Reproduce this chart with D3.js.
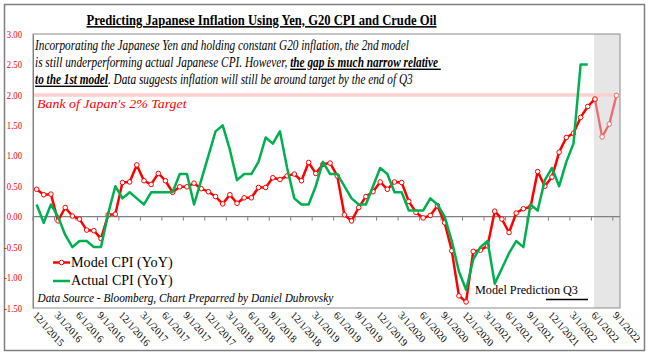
<!DOCTYPE html>
<html><head><meta charset="utf-8">
<script src="https://cdn.jsdelivr.net/npm/d3@7"></script>
<style>body{margin:0;background:#fff} svg{display:block}</style>
</head><body>
<svg id="chart" width="649" height="353"></svg>
<script>
// ---------------- data ----------------
const tickLabels = ["12/1/2015","3/1/2016","6/1/2016","9/1/2016","12/1/2016","3/1/2017","6/1/2017","9/1/2017",
  "12/1/2017","3/1/2018","6/1/2018","9/1/2018","12/1/2018","3/1/2019","6/1/2019","9/1/2019","12/1/2019",
  "3/1/2020","6/1/2020","9/1/2020","12/1/2020","3/1/2021","6/1/2021","9/1/2021","12/1/2021","3/1/2022",
  "6/1/2022","9/1/2022"];
// Model CPI (YoY), monthly from 12/1/2015 to 6/1/2022
const modelCPI = [0.45,0.36,0.37,-0.07,0.15,0.01,-0.04,-0.22,-0.23,-0.36,
  0.03,0.04,0.56,0.57,0.85,0.59,0.53,0.71,0.59,0.40,
  0.49,0.49,0.55,0.46,0.41,0.33,0.21,0.36,0.22,0.31,
  0.31,0.48,0.48,0.64,0.61,0.67,0.70,0.59,0.89,0.71,
  0.86,0.88,0.67,0.03,-0.07,0.15,0.33,0.41,0.57,0.45,
  0.57,0.56,0.25,0.07,-0.02,0.02,0.18,-0.10,-0.56,-1.30,
  -1.40,-0.57,-0.55,-0.48,0.09,-0.04,-0.26,0.06,0.13,0.16,
  0.74,0.50,0.65,1.06,1.30,1.37,1.63,1.81,1.93];
// Actual CPI (YoY), monthly from 12/1/2015 to 5/1/2022
const actualCPI = [0.2,-0.1,0.2,0.0,-0.3,-0.5,-0.4,-0.4,-0.5,-0.5,
  0.05,0.5,0.3,0.4,0.3,0.2,0.4,0.4,0.4,0.4,
  0.7,0.7,0.2,0.6,1.0,1.4,1.5,1.1,0.6,0.7,
  0.7,0.9,1.3,1.2,1.4,0.8,0.3,0.2,0.2,0.5,
  0.9,0.7,0.7,0.5,0.3,0.2,0.2,0.5,0.8,0.7,
  0.4,0.4,0.1,0.1,0.1,0.3,0.2,0.0,-0.4,-0.9,
  -1.2,-0.7,-0.5,-0.4,-1.1,-0.85,-0.6,-0.4,-0.5,0.2,
  0.1,0.6,0.8,0.5,0.9,1.2,2.5,2.5];
// Model prediction, 6/1/2022 to 9/1/2022
const forecastStart = "6/1/2022";
const modelForecast = [1.93,1.31,1.52,1.99];
const yTicks = [3,2.5,2,1.5,1,0.5,0,-0.5,-1,-1.5];
const bojTarget = 2.0;

// ---------------- setup ----------------
const fmt = d3.timeFormat("%-m/%-d/%Y");
const cats = d3.timeMonth.range(new Date(2015,11,1), new Date(2022,9,1)).map(fmt);
const L = 33, R = 620, T = 34, B = 308;
const svg = d3.select("#chart");
const SERIF = "'Liberation Serif','Times New Roman',serif";

const x = d3.scaleBand().domain(cats).range([L, R]).padding(0);
const cx = c => x(c) + x.bandwidth() / 2;
const y = d3.scaleLinear().domain([-1.5, 3]).range([B, T]);

function fitX(sel, target, ax) {
  const w = sel.node().getBBox().width;
  const s = target / w;
  sel.attr("transform", `translate(${ax},0) scale(${s},1) translate(${-ax},0)`);
}

// outer border
svg.append("rect").attr("x", 4.5).attr("y", 4.5).attr("width", 640).attr("height", 346)
  .attr("fill", "#fff").attr("stroke", "#7f7f7f").attr("stroke-width", 1.5);

// plot area
svg.append("rect").attr("x", L).attr("y", T).attr("width", R - L).attr("height", B - T)
  .attr("fill", "#fff");

// forecast shading
const shadeX = cx(forecastStart) - 1;
svg.append("rect").attr("x", shadeX).attr("y", T).attr("width", R - shadeX).attr("height", B - T)
  .attr("fill", "#e6e6e6");

// BoJ target band
svg.append("line").attr("x1", L).attr("x2", R).attr("y1", y(bojTarget)).attr("y2", y(bojTarget))
  .attr("stroke", "#ffcfcf").attr("stroke-width", 3.5);

// plot border
svg.append("rect").attr("x", L).attr("y", T).attr("width", R - L).attr("height", B - T)
  .attr("fill", "none").attr("stroke", "#8c8c8c").attr("stroke-width", 1);

// zero axis line with ticks
svg.append("line").attr("x1", L).attr("x2", R).attr("y1", y(0)).attr("y2", y(0))
  .attr("stroke", "#808080").attr("stroke-width", 1.2);
svg.selectAll("line.xt").data(tickLabels).enter().append("line").attr("class", "xt")
  .attr("x1", d => x(d)).attr("x2", d => x(d)).attr("y1", y(0)).attr("y2", y(0) + 4)
  .attr("stroke", "#808080").attr("stroke-width", 1);

// y axis labels
const yAxis = svg.append("g").attr("transform", `translate(${L},0)`)
  .call(d3.axisLeft(y).tickValues(yTicks).tickSize(0).tickPadding(9).tickFormat(v => v.toFixed(2)));
yAxis.select(".domain").attr("stroke", "#808080");
yAxis.selectAll("text").attr("fill", "#ff0000").attr("font-family", SERIF).attr("font-size", 10)
  .attr("transform", `translate(-24,0) scale(0.87,1) translate(24,0)`);

// x tick labels (rotated)
svg.selectAll("text.xl").data(tickLabels).enter().append("text").attr("class", "xl")
  .attr("transform", d => `translate(${x(d) + 2},${B + 5}) scale(0.87,1) rotate(45)`)
  .attr("dy", "0.35em")
  .attr("font-family", SERIF).attr("font-size", 11).attr("fill", "#000").text(d => d);

// lines
const line = d3.line().x(d => cx(d.c)).y(d => y(d.v));
const modelPts = modelCPI.map((v, i) => ({c: cats[i], v}));
const actualPts = actualCPI.map((v, i) => ({c: cats[i], v}));
const fi = cats.indexOf(forecastStart);
const fcPts = modelForecast.map((v, i) => ({c: cats[fi + i], v}));

svg.append("path").datum(fcPts).attr("d", line).attr("fill", "none")
  .attr("stroke", "#ef6b6b").attr("stroke-width", 2.3);
svg.selectAll("circle.fc").data(fcPts).enter().append("circle").attr("class", "fc")
  .attr("cx", d => cx(d.c)).attr("cy", d => y(d.v)).attr("r", 2.3)
  .attr("fill", "#fff").attr("stroke", "#ef6b6b").attr("stroke-width", 1);

svg.append("path").datum(modelPts).attr("d", line).attr("fill", "none")
  .attr("stroke", "#ff0000").attr("stroke-width", 2.5).attr("stroke-linejoin", "round");
svg.selectAll("circle.m").data(modelPts).enter().append("circle").attr("class", "m")
  .attr("cx", d => cx(d.c)).attr("cy", d => y(d.v)).attr("r", 2.3)
  .attr("fill", "#fff").attr("stroke", "#ff0000").attr("stroke-width", 1);

svg.append("path").datum(actualPts).attr("d", line).attr("fill", "none")
  .attr("stroke", "#00b050").attr("stroke-width", 2.5).attr("stroke-linejoin", "round");

// title
const title = svg.append("text").attr("x", 261.5).attr("y", 25).attr("text-anchor", "middle")
  .attr("font-family", SERIF).attr("font-weight", "bold").attr("font-size", 15.5)
  .attr("text-decoration", "underline")
  .text("Predicting Japanese Inflation Using Yen, G20 CPI and Crude Oil");
fitX(title, 351, 261.5);

// annotation
function annLine(yb, parts, target) {
  const t = svg.append("text").attr("x", 35).attr("y", yb)
    .attr("font-family", SERIF).attr("font-style", "italic").attr("font-size", 14).attr("fill", "#000");
  parts.forEach(p => {
    const ts = t.append("tspan").text(p[0]);
    if (p[1]) ts.attr("font-weight", "bold").attr("text-decoration", "underline");
  });
  fitX(t, target, 35);
}
annLine(50.5, [["Incorporating the Japanese Yen and holding constant G20 inflation, the 2nd model", false]], 375);
annLine(67.5, [["is still underperforming actual Japanese CPI. However, ", false], ["the gap is much narrow relative\u00a0", true]], 406);
annLine(84.5, [["to the 1st model", true], [". Data suggests inflation will still be around target by the end of Q3", false]], 378);

// BoJ label
const boj = svg.append("text").attr("x", 37).attr("y", 108)
  .attr("font-family", SERIF).attr("font-style", "italic").attr("font-size", 13.5).attr("fill", "#ff0000")
  .text("Bank of Japan's 2% Target");
fitX(boj, 151, 37);

// legend
const lg = svg.append("g");
lg.append("line").attr("x1", 53).attr("x2", 70).attr("y1", 262.5).attr("y2", 262.5)
  .attr("stroke", "#ff0000").attr("stroke-width", 2.5);
lg.append("circle").attr("cx", 61.5).attr("cy", 262.5).attr("r", 2.3)
  .attr("fill", "#fff").attr("stroke", "#ff0000");
lg.append("line").attr("x1", 53).attr("x2", 70).attr("y1", 281).attr("y2", 281)
  .attr("stroke", "#00b050").attr("stroke-width", 2.5);
const l1 = lg.append("text").attr("x", 71).attr("y", 267).attr("font-family", SERIF)
  .attr("font-size", 14).text("Model CPI (YoY)");
fitX(l1, 102, 71);
const l2 = lg.append("text").attr("x", 71).attr("y", 285.5).attr("font-family", SERIF)
  .attr("font-size", 14).text("Actual CPI (YoY)");
fitX(l2, 102, 71);

// source
const src = svg.append("text").attr("x", 37.5).attr("y", 302.5).attr("font-family", SERIF)
  .attr("font-style", "italic").attr("font-size", 11.5)
  .text("Data Source - Bloomberg, Chart Preparred by Daniel Dubrovsky");
fitX(src, 298, 37.5);

// model prediction label
const mp = svg.append("text").attr("x", 475).attr("y", 294.5).attr("font-family", SERIF)
  .attr("font-size", 12.5).text("Model Prediction Q3");
fitX(mp, 103, 475);
svg.append("line").attr("x1", 546).attr("x2", 588).attr("y1", 299.5).attr("y2", 299.5)
  .attr("stroke", "#000").attr("stroke-width", 1.5);
</script>
</body></html>
